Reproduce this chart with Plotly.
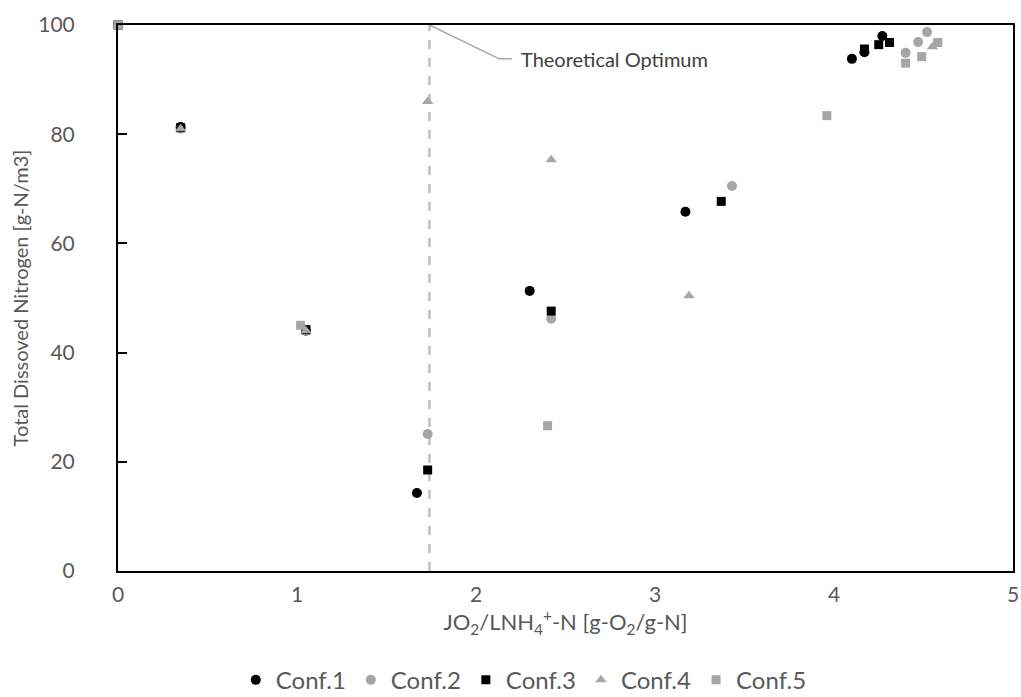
import plotly.graph_objects as go

# Data
conf1_x = [0.0, 0.35, 1.05, 1.67, 2.30, 3.17, 4.10, 4.17, 4.27]
conf1_y = [100.0, 81.3, 44.0, 14.3, 51.3, 65.8, 93.8, 95.0, 98.0]

conf2_x = [0.0, 0.35, 1.05, 1.73, 2.42, 3.43, 4.40, 4.47, 4.52]
conf2_y = [100.0, 81.0, 44.0, 25.1, 46.2, 70.5, 94.9, 96.9, 98.7]

conf3_x = [0.0, 0.35, 1.05, 1.73, 2.42, 3.37, 4.17, 4.25, 4.31]
conf3_y = [100.0, 81.2, 44.2, 18.5, 47.6, 67.7, 95.6, 96.4, 96.8]

conf4_x = [0.0, 0.35, 1.05, 1.73, 2.42, 3.19, 4.55, 4.57]
conf4_y = [100.0, 81.0, 44.0, 86.0, 75.3, 50.4, 96.0, 96.6]

conf5_x = [0.0, 1.02, 2.40, 3.96, 4.40, 4.49, 4.58]
conf5_y = [100.0, 45.0, 26.6, 83.4, 93.0, 94.2, 96.8]

optimum_x = 1.74
x_ticks = [0, 1, 2, 3, 4, 5]
y_ticks = [0, 20, 40, 60, 80, 100]

BLACK = "#000000"
GRAY = "#a6a6a6"
TXT = "#595959"
FONT = "Lato"

fig = go.Figure()

# Theoretical optimum line
fig.add_trace(go.Scatter(
    x=[optimum_x, optimum_x], y=[0, 100], mode="lines",
    line=dict(color="#bfbfbf", width=2.5, dash="dash"),
    showlegend=False, hoverinfo="skip"))

series = [
    ("Conf.1", conf1_x, conf1_y, "circle", BLACK, 10),
    ("Conf.2", conf2_x, conf2_y, "circle", GRAY, 10),
    ("Conf.3", conf3_x, conf3_y, "square", BLACK, 9),
    ("Conf.4", conf4_x, conf4_y, "triangle-up", GRAY, 10),
    ("Conf.5", conf5_x, conf5_y, "square", GRAY, 9),
]
for name, xs, ys, sym, col, sz in series:
    fig.add_trace(go.Scatter(
        x=xs, y=ys, mode="markers", name=name,
        marker=dict(symbol=sym, color=col, size=sz, line=dict(width=0)),
        cliponaxis=False))

# Leader line for the annotation
fig.add_shape(type="path",
              path=f"M {optimum_x},100 L 2.13,93.8 L 2.20,93.8",
              xref="x", yref="y", line=dict(color="#a6a6a6", width=1.5))
fig.add_annotation(x=2.24, y=93.8, xref="x", yref="y", text="Theoretical Optimum",
                   showarrow=False, xanchor="left", yanchor="middle",
                   font=dict(family=FONT, size=20, color="#404040"))

fig.update_layout(
    width=1021, height=697,
    margin=dict(l=118, r=8, t=25, b=126, autoexpand=False),
    paper_bgcolor="white", plot_bgcolor="white",
    font=dict(family=FONT, color=TXT),
    legend=dict(orientation="h", xref="container", yref="container",
                x=0.513, xanchor="center", y=0.024, yanchor="middle",
                font=dict(family=FONT, size=24, color=TXT),
                itemwidth=30, tracegroupgap=0),
)
fig.update_xaxes(
    range=[0, 5], tickvals=x_ticks, showgrid=False, zeroline=False, automargin=False,
    showline=True, linecolor="black", linewidth=2, mirror=True,
    ticks="", tickfont=dict(family=FONT, size=21, color=TXT), ticklabelstandoff=4,
    ticklabeloverflow="allow",
    title=dict(text="JO<sub>2</sub>/LNH<sub>4</sub><sup>+</sup>-N [g-O<sub>2</sub>/g-N]",
               font=dict(family=FONT, size=22, color=TXT), standoff=5))
fig.update_yaxes(
    range=[0, 100], tickvals=y_ticks, showgrid=False, zeroline=False, automargin=False,
    showline=True, linecolor="black", linewidth=2, mirror=True,
    ticks="inside", ticklen=9, tickcolor="black", tickwidth=2,
    tickfont=dict(family=FONT, size=21, color=TXT), ticklabelstandoff=37,
    ticklabeloverflow="allow",
    title=dict(text="Total Dissoved Nitrogen [g-N/m3]",
               font=dict(family=FONT, size=20, color=TXT), standoff=4))

fig.write_html("out.html")
